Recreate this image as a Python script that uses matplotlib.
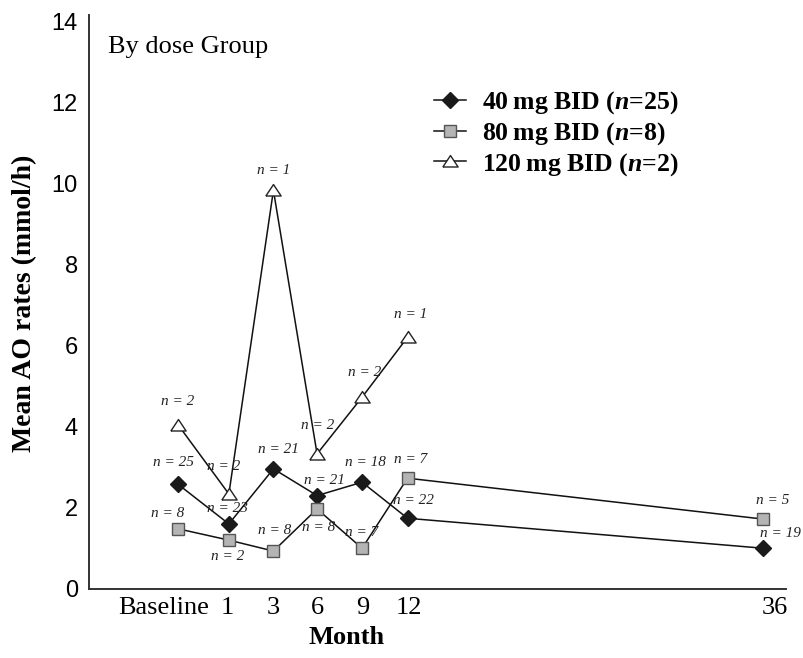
import matplotlib
matplotlib.use("Agg")
import matplotlib.pyplot as plt

plt.rcParams["font.family"] = ["Liberation Serif", "DejaVu Serif"]
plt.rcParams["mathtext.fontset"] = "custom"
plt.rcParams["mathtext.rm"] = "Liberation Serif"
plt.rcParams["mathtext.it"] = "Liberation Serif:italic"
plt.rcParams["mathtext.bf"] = "Liberation Serif:bold"
plt.rcParams["mathtext.bfit"] = "Liberation Serif:italic:bold"

# categories on the month axis (drawn at uneven spacing, as in the figure)
months = ["Baseline", "1", "3", "6", "9", "12", "36"]
month_pos = [0.0, 1.13, 2.12, 3.09, 4.09, 5.10, 13.0]

# mean AO rates (mmol/h)
dose_40 = [2.58, 1.60, 2.96, 2.30, 2.63, 1.74, 1.00]
dose_80 = [1.48, 1.20, 0.93, 1.97, 1.00, 2.73, 1.72]
dose_120 = [4.05, 2.34, 9.84, 3.33, 4.73, 6.21]

n_40 = [25, 23, 21, 21, 18, 22, 19]
n_80 = [8, 2, 8, 8, 7, 7, 5]
n_120 = [2, 2, 1, 2, 2, 1]

# label offsets in pixels (dx, dy)
off_40 = [(-5, 22), (-1, 15), (5, 19), (7, 15), (3, 20), (6, 18), (17, 15)]
off_80 = [(-10, 15), (-1, -16), (1, 21), (2, -19), (0, 16), (3, 19), (10, 19)]
off_120 = [(0, 23), (-5, 27), (0, 20), (1, 28), (3, 25), (3, 23)]

tri = [(-1, -0.72), (1, -0.72), (0, 0.78), (-1, -0.72)]

fig = plt.figure(figsize=(8.04, 6.58), dpi=100)
ax = fig.add_axes([0.1107, 0.1053, 0.8669, 0.8719])

ax.plot(month_pos, dose_40, color="#111111", lw=1.1, marker="D", ms=8,
        mfc="#1a1a1a", mec="#1a1a1a", label="40\u2009mg BID ($\\mathbfit{n}$=25)", zorder=3)
ax.plot(month_pos, dose_80, color="#111111", lw=1.1, marker="s", ms=9,
        mfc="#b4b4b4", mec="#555555", mew=1.0, label="80\u2009mg BID ($\\mathbfit{n}$=8)", zorder=3)
ax.plot(month_pos[:len(dose_120)], dose_120, color="#111111", lw=1.1, marker=tri, ms=11,
        mfc="white", mec="#222222", mew=1.0, label="120\u2009mg BID ($\\mathbfit{n}$=2)", zorder=3)

for xs, ys, ns, offs in [(month_pos, dose_40, n_40, off_40),
                         (month_pos, dose_80, n_80, off_80),
                         (month_pos, dose_120, n_120, off_120)]:
    for x, y, n, (dx, dy) in zip(xs, ys, ns, offs):
        ax.annotate(f"n = {n}", (x, y), xytext=(dx, dy), textcoords="offset pixels",
                    ha="center", va="center", fontsize=11, fontstyle="italic",
                    color="#222222", zorder=4)

ax.set_xlim(-1.978, 13.51)
ax.set_ylim(0, 14.17)
ax.set_yticks(range(0, 15, 2))
ax.set_yticklabels([str(v) for v in range(0, 15, 2)], family="Liberation Sans", fontsize=17)
tick_pos = [-0.33, 1.09, 2.12, 3.09, 4.11, 5.13, 13.27]
ax.set_xticks(tick_pos)
ax.set_xticklabels(months, fontsize=19)
ax.tick_params(axis="both", length=0)
ax.tick_params(axis="y", pad=8)
ax.tick_params(axis="x", pad=6)

for side in ["top", "right"]:
    ax.spines[side].set_visible(False)
for side in ["left", "bottom"]:
    ax.spines[side].set_linewidth(1.4)
    ax.spines[side].set_color("#333333")

ax.set_ylabel("Mean AO rates (mmol/h)", fontsize=20, fontweight="bold")
ax.yaxis.set_label_coords(-0.0746, 0.497)
ax.set_xlabel("Month", fontsize=19, fontweight="bold")
ax.xaxis.set_label_coords(0.37, -0.065)

ax.text(0.027, 0.944, "By dose Group", transform=ax.transAxes, fontsize=19,
        ha="left", va="center")

leg = ax.legend(loc="upper left", bbox_to_anchor=(0.495, 0.87), frameon=False,
                prop={"family": ["Liberation Serif", "DejaVu Serif"], "weight": "bold", "size": 18.5},
                handlelength=1.25, handletextpad=0.6, labelspacing=0.15,
                borderpad=0, borderaxespad=0)

fig.savefig("out.png", dpi=100)
